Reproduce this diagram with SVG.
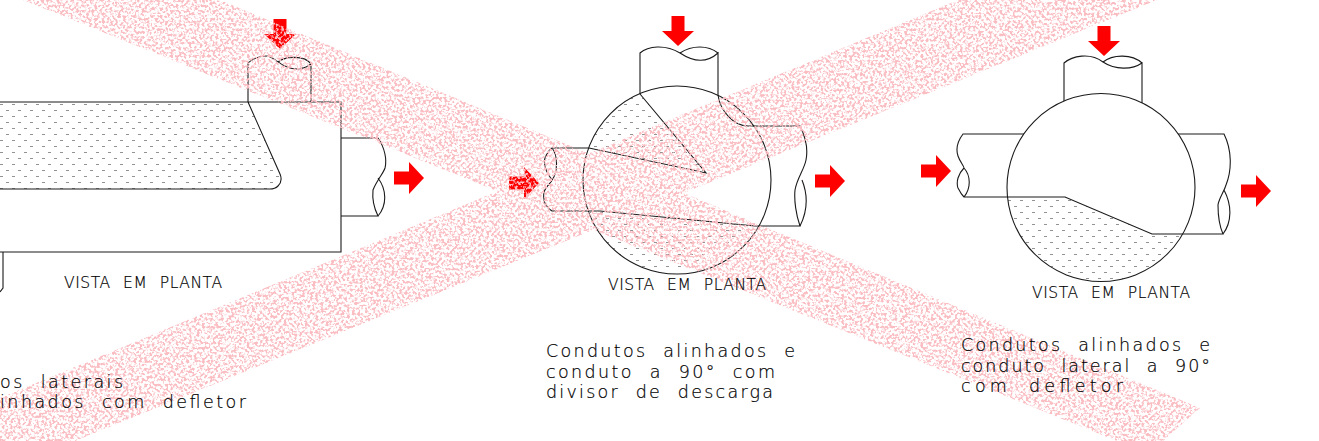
<svg xmlns="http://www.w3.org/2000/svg" width="1319" height="441" viewBox="0 0 1319 441">
<style>
.ln{fill:none;stroke:#1a1a1a;stroke-width:1.1}
.ar{fill:#ff0000}
.lb{font-family:"DejaVu Sans","Liberation Sans",sans-serif;font-weight:200;font-size:15.5px;fill:#000;stroke:#000;stroke-width:.2;word-spacing:7px}
.cp{font-family:"DejaVu Sans","Liberation Sans",sans-serif;font-weight:200;font-size:17.5px;fill:#000;stroke:#000;stroke-width:.2;word-spacing:8px}
</style>
<defs>
<pattern id="h" width="12" height="12" patternUnits="userSpaceOnUse" patternTransform="translate(0,98)">
<path d="M0 6.5H3M6 .5H9" stroke="#777" stroke-width=".8" fill="none"/>
</pattern>
<polygon id="a" points="0,-6.5 15,-6.5 15,-16 30,0 15,16 15,6.5 0,6.5"/>
<filter id="sp" filterUnits="userSpaceOnUse" x="0" y="0" width="1319" height="441" color-interpolation-filters="sRGB">
<feTurbulence type="fractalNoise" baseFrequency="0.38" numOctaves="2" seed="7" result="n"/>
<feColorMatrix in="n" type="matrix" values="0 0 0 0 0.98  0 0 0 0 0.74  0 0 0 0 0.76  6 0 0 0 -2.75" result="d"/>
<feComposite in="d" in2="SourceAlpha" operator="in"/>
</filter>
<clipPath id="c2"><circle cx="677" cy="180" r="94"/></clipPath>
<clipPath id="c3"><circle cx="1101" cy="187.5" r="94"/></clipPath>
</defs>

<g id="vista-esquerda">
<path d="M0 103H248L280 174Q283 181 278 186Q275 189 270 189H0Z" fill="url(#h)"/>
<path class="ln" d="M0 102H341V252H0M0 189H270Q275 189 278 186Q283 181 280 174L248 102"/>
<path class="ln" d="M248 102V63Q256 56 266 56C275 56 280 68 295 69Q305 69 311 64V102M278 62C285 56 305 55 311 64"/>
<path class="ln" d="M341 138H378C385 148 387 160 385 168C383 174 377 180 373 190C372 200 375 210 378 216H341M378 178C387 190 387 205 378 216"/>
<path class="ln" d="M3 252V288L0 292"/>
</g>

<g id="vista-centro">
<path d="M640 94L706 173L589 148L560 110L610 85Z" fill="url(#h)" clip-path="url(#c2)"/>
<path d="M590 212L600 211L757 226L680 272L590 272Z" fill="url(#h)" clip-path="url(#c2)"/>
<circle class="ln" cx="677" cy="180" r="94"/>
<path class="ln" d="M640 94V53C648 46 665 44 680 53C695 63 708 62 718 53V95C720 110 733 126 748 126H800C806 138 808 150 806 160C804 170 797 178 795 190C794 200 796 215 800 226H755L600 211H552C544 206 543 198 544 192C546 186 552 182 552 180C546 172 543 165 545 158C547 153 549 150 552 148H589L706 173L640 94"/>
<path class="ln" d="M680 53C692 45 708 45 718 53M802 180C808 195 808 210 800 226M552 148C558 155 558 172 552 180"/>
</g>

<g id="vista-direita">
<path d="M1000 197H1065L1152 234H1200V285H1000Z" fill="url(#h)" clip-path="url(#c3)"/>
<circle class="ln" cx="1101" cy="187.5" r="94"/>
<path class="ln" d="M1064 101V63C1072 56 1090 52 1103 62C1115 70 1132 70 1142 63V103M1103 62C1113 54 1132 54 1142 63"/>
<path class="ln" d="M1024 134H963C957 142 956 150 958 156C960 162 964 166 964 168C958 174 956 182 958 188C960 192 962 195 964 197H1065L1152 234H1223C1219 225 1218 215 1218 205C1219 198 1224 192 1226 185C1232 170 1232 150 1224 134H1178M964 168C971 176 971 188 964 197M1224 190C1232 205 1232 222 1223 234"/>
</g>

<g id="conectores" class="ar">
<use href="#a" transform="translate(280,19) rotate(90)"/>
<use href="#a" transform="translate(394,178)"/>
<use href="#a" transform="translate(509,183)"/>
<use href="#a" transform="translate(678,16) rotate(90)"/>
<use href="#a" transform="translate(815,181)"/>
<use href="#a" transform="translate(921,171)"/>
<use href="#a" transform="translate(1104,26) rotate(90)"/>
<use href="#a" transform="translate(1241,191)"/>
</g>

<g id="faixas" filter="url(#sp)">
<polygon points="220,0 1200,408 1163,441 1117,441 23,0"/>
<polygon points="958,0 1157,0 75,441 0,441 0,398"/>
</g>

<g id="rotulos">
<text class="lb" x="64" y="288" textLength="158" lengthAdjust="spacing">VISTA EM PLANTA</text>
<text class="cp" x="0" y="388" textLength="123" lengthAdjust="spacing">os laterais</text>
<text class="cp" x="0" y="408" textLength="246" lengthAdjust="spacing">inhados com defletor</text>
<text class="lb" x="608" y="290" textLength="158" lengthAdjust="spacing">VISTA EM PLANTA</text>
<text class="cp" x="546" y="357" textLength="249" lengthAdjust="spacing">Condutos alinhados e</text>
<text class="cp" x="546" y="378" textLength="229" lengthAdjust="spacing">conduto a 90° com</text>
<text class="cp" x="546" y="398" textLength="227" lengthAdjust="spacing">divisor de descarga</text>
<text class="lb" x="1032" y="298" textLength="158" lengthAdjust="spacing">VISTA EM PLANTA</text>
<text class="cp" x="961" y="351" textLength="249" lengthAdjust="spacing">Condutos alinhados e</text>
<text class="cp" x="961" y="372" textLength="249" lengthAdjust="spacing">conduto lateral a 90°</text>
<text class="cp" x="961" y="392" textLength="162" lengthAdjust="spacing">com defletor</text>
</g>
</svg>
